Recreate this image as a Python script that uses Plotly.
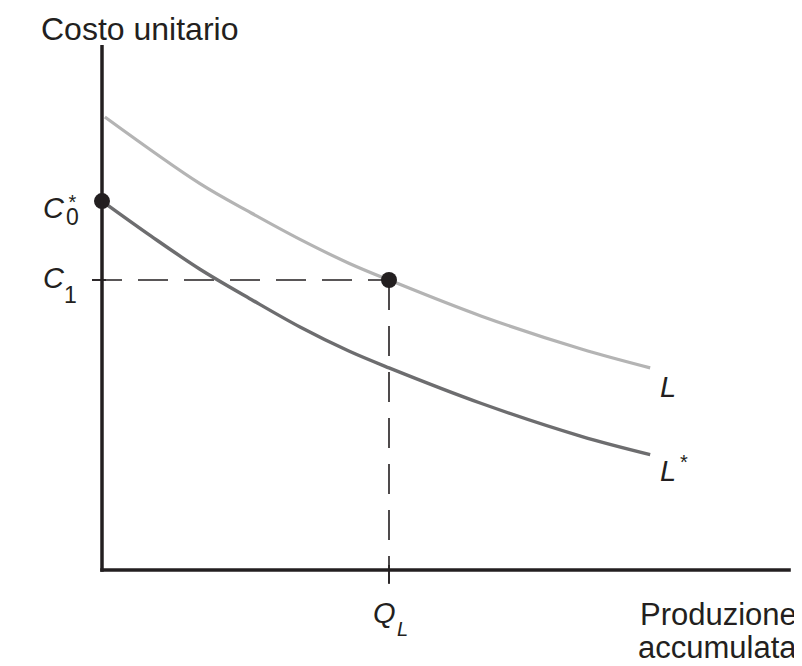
import plotly.graph_objects as go

# ---------------- data (economic units) ----------------
L_x = [0.1, 3.4, 5.2, 6.9, 8.6, 10.0, 13.2, 16.7, 19.1]
L_y = [15.62, 13.33, 12.31, 11.40, 10.58, 10.0, 8.76, 7.62, 6.97]

Lstar_x = [0.0, 1.7, 3.4, 5.2, 6.9, 8.6, 10.0, 13.2, 16.7, 19.1]
Lstar_y = [12.72, 11.52, 10.38, 9.33, 8.38, 7.55, 6.97, 5.75, 4.61, 3.98]

Q_L = 10.0
C1 = 10.0
C0_star = 12.72

X_AXIS_MAX = 24.0
Y_AXIS_MAX = 18.1

# ---------------- pixel mapping ----------------
PAGE_OFF = 8               # default body margin of the html page
W, H = 802 - PAGE_OFF, 666 - PAGE_OFF
X0, Y0 = 102, 570          # origin pixel (page coordinates)
SX, SY = 28.7, 29.0         # pixels per unit


def dx(px):
    return (px - X0) / SX


def dy(py):
    return (Y0 - py) / SY


INK = "#231f20"
LIGHT = "#b4b4b4"
DARK = "#6d6d6f"
FONT = "Liberation Sans, Arial, Helvetica, sans-serif"

fig = go.Figure()

# dashed guide lines
fig.add_trace(go.Scatter(x=[dx(92), Q_L], y=[C1, C1], mode="lines",
                         line=dict(color=INK, width=1.6, dash="30px,16px"),
                         hoverinfo="skip", showlegend=False))
fig.add_trace(go.Scatter(x=[Q_L, Q_L], y=[C1, dy(584)], mode="lines",
                         line=dict(color=INK, width=1.6, dash="30px,16px"),
                         hoverinfo="skip", showlegend=False))

# curves
fig.add_trace(go.Scatter(x=L_x, y=L_y, mode="lines", line_shape="spline",
                         line=dict(color=LIGHT, width=3.2),
                         hoverinfo="skip", showlegend=False))
fig.add_trace(go.Scatter(x=Lstar_x, y=Lstar_y, mode="lines", line_shape="spline",
                         line=dict(color=DARK, width=3.4),
                         hoverinfo="skip", showlegend=False))

# axes (as shapes)
fig.add_shape(type="line", x0=0, x1=0, y0=dy(Y0 + 1.7), y1=Y_AXIS_MAX,
              line=dict(color=INK, width=3.5))
fig.add_shape(type="line", x0=dx(X0 - 1.7), x1=X_AXIS_MAX, y0=0, y1=0,
              line=dict(color=INK, width=3.5))
# tick marks
fig.add_shape(type="line", x0=dx(92), x1=dx(106), y0=C1, y1=C1,
              line=dict(color=INK, width=1.6))
fig.add_shape(type="line", x0=Q_L, x1=Q_L, y0=dy(565), y1=dy(583),
              line=dict(color=INK, width=1.6))

# points
fig.add_trace(go.Scatter(x=[0, Q_L], y=[C0_star, C1], mode="markers",
                         marker=dict(color=INK, size=16),
                         cliponaxis=False, hoverinfo="skip", showlegend=False))


def ann(text, px, py, size, xanchor="center", yanchor="middle"):
    fig.add_annotation(x=dx(px), y=dy(py), xref="x", yref="y", text=text,
                       showarrow=False, xanchor=xanchor, yanchor=yanchor,
                       font=dict(family=FONT, size=size, color=INK))


ann("Costo unitario", 39, 8.5, 32, xanchor="left", yanchor="top")
ann("Produzione", 799, 614, 31, xanchor="right")
ann("accumulata", 799, 647, 31, xanchor="right")

# C0*  (star stacked above the subscript 0 in a single text)
ann("<i>C</i>", 54, 208, 29)
ann("<span style='font-size:20px'>*</span><br>"
    "<span style='font-size:23px'>0</span>", 72, 210, 12)
# C1
ann("<i>C</i>", 54, 278, 29)
ann("1", 70, 295, 23)
# Q_L
ann("<i>Q</i>", 384, 613, 29)
ann("<i>L</i>", 402, 629, 20)
# L, L*
ann("<i>L</i>", 668, 387, 29)
ann("<i>L</i>", 668, 471, 29)
ann("*", 684, 462, 20)

fig.update_layout(
    width=W, height=H,
    margin=dict(l=0, r=0, t=0, b=0),
    paper_bgcolor="white", plot_bgcolor="white",
    xaxis=dict(range=[dx(PAGE_OFF), dx(802)], visible=False, fixedrange=True),
    yaxis=dict(range=[dy(666), dy(PAGE_OFF)], visible=False, fixedrange=True),
    showlegend=False,
)

fig.write_html("out.html")
